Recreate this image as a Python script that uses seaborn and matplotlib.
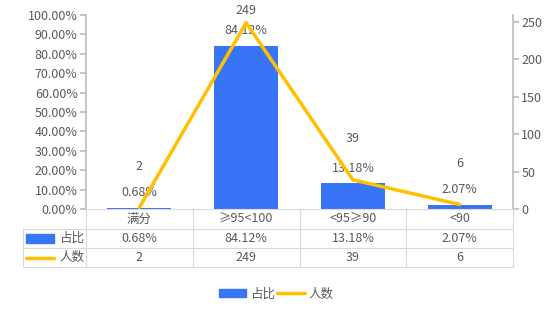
import matplotlib
matplotlib.use("Agg")
import matplotlib.pyplot as plt
import seaborn as sns
import numpy as np
import pandas as pd
from matplotlib.lines import Line2D
from matplotlib.patches import Rectangle

categories = ["满分", "≥95<100", "<95≥90", "<90"]
ratio = [0.68, 84.12, 13.18, 2.07]
counts = [2, 249, 39, 6]
ratio_labels = ["0.68%", "84.12%", "13.18%", "2.07%"]
series_names = ["占比", "人数"]

sns.set_theme(style="white")
plt.rcParams['font.family'] = ['Noto Sans CJK SC', 'DejaVu Sans']
TXT = "#595959"
GRID = "#d9d9d9"
BLUE = "#3875F6"
YEL = "#FFC000"
FS = 9

W, H = 552, 314
fig = plt.figure(figsize=(W / 100, H / 100), dpi=100)
L, R, T, B = 86, 513, 15, 209
ax = fig.add_axes([L / W, 1 - B / H, (R - L) / W, (B - T) / H])

df = pd.DataFrame({"cat": categories, "ratio": ratio, "count": counts})
sns.barplot(data=df, x="cat", y="ratio", color=BLUE, width=0.6, ax=ax,
            saturation=1, edgecolor="none")
ax.set_xlim(-0.5, 3.5)
ax.set_ylim(0, 100)
ax.set_yticks(np.arange(0, 101, 10))
ax.set_yticklabels([f"{v:.2f}%" for v in np.arange(0, 101, 10)], color=TXT, fontsize=FS)
ax.set_xticks([])
ax.set_xlabel("")
ax.set_ylabel("")
ax.tick_params(axis="y", which="both", left=True, length=4, color="#bfbfbf", pad=2)

ax2 = ax.twinx()
xs = np.arange(len(categories))
sns.lineplot(x=xs, y=counts, color=YEL, linewidth=2.5, ax=ax2)
ax2.set_ylim(0, 259.4)
ax2.set_yticks(np.arange(0, 251, 50))
ax2.set_yticklabels([str(v) for v in np.arange(0, 251, 50)], color=TXT, fontsize=FS)
ax2.tick_params(axis="y", right=True, length=4, color="#bfbfbf", pad=2)
ax2.set_xlim(-0.5, 3.5)

for a in (ax, ax2):
    for s in ("top", "bottom"):
        a.spines[s].set_visible(False)
    a.spines["left"].set_color("#bfbfbf")
    a.spines["right"].set_color("#bfbfbf")
ax.spines["right"].set_visible(False)
ax2.spines["left"].set_visible(False)

# data labels
for i, (v, lab) in enumerate(zip(ratio, ratio_labels)):
    ax.annotate(lab, (i, v), xytext=(0, 11), textcoords="offset points",
                ha="center", va="center", color=TXT, fontsize=FS)
for i, c in enumerate(counts):
    px, py = ax2.transData.transform((i, c))
    ty = min(py + 41, H - 11)
    ax2.annotate(str(c), (i, c), xytext=(px, ty),
                 textcoords="figure pixels", ha="center", va="center",
                 color=TXT, fontsize=FS)

# table below axes (figure pixel coords, y from top)
def fx(x):
    return x / W

def fy(y):
    return 1 - y / H

def hline(x0, x1, y):
    fig.add_artist(Line2D([fx(x0), fx(x1)], [fy(y), fy(y)], color=GRID, lw=0.8))

def vline(x, y0, y1):
    fig.add_artist(Line2D([fx(x), fx(x)], [fy(y0), fy(y1)], color=GRID, lw=0.8))

col_w = (R - L) / len(categories)
cols = [L + k * col_w for k in range(len(categories) + 1)]
hline(L, R, 209)
hline(23, R, 229)
hline(23, R, 248)
hline(23, R, 267)
for c in cols:
    vline(c, 209, 267)
vline(23, 229, 267)

for k, cat in enumerate(categories):
    cx = (cols[k] + cols[k + 1]) / 2
    fig.text(fx(cx), fy(219), cat, ha="center", va="center", color=TXT, fontsize=FS)
    fig.text(fx(cx), fy(238.5), ratio_labels[k], ha="center", va="center", color=TXT, fontsize=FS)
    fig.text(fx(cx), fy(257.5), str(counts[k]), ha="center", va="center", color=TXT, fontsize=FS)

fig.add_artist(Rectangle((fx(26), fy(243)), fx(54) - fx(26), fy(234) - fy(243),
                         color=BLUE, transform=fig.transFigure))
fig.add_artist(Line2D([fx(26), fx(54)], [fy(257.5), fy(257.5)], color=YEL, lw=2.5))
fig.text(fx(59), fy(238.5), series_names[0], ha="left", va="center", color=TXT, fontsize=FS)
fig.text(fx(59), fy(257.5), series_names[1], ha="left", va="center", color=TXT, fontsize=FS)

# bottom legend
handles = [Rectangle((0, 0), 1, 1, color=BLUE), Line2D([0], [0], color=YEL, lw=2.5)]
fig.legend(handles, series_names, loc="center", bbox_to_anchor=(fx(276), fy(294)),
           ncol=2, frameon=False, fontsize=FS, labelcolor=TXT,
           handlelength=2.2, handletextpad=0.3, columnspacing=0.2,
           handleheight=0.6)

fig.savefig("out.png", dpi=100)
